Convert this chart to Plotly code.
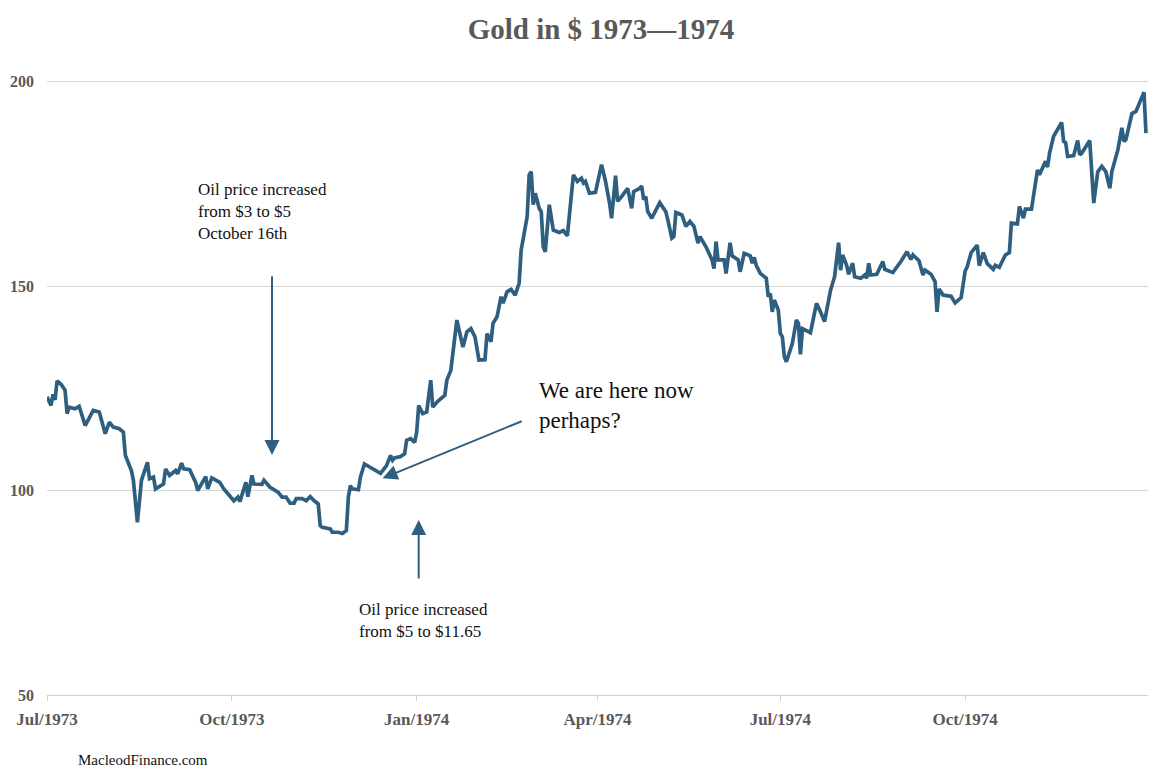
#!/usr/bin/env python3
# -*- coding: utf-8 -*-

# external imports
import pandas as pd
import plotly.graph_objects as go

# days counted from 1 Jul 1973
day_offsets = [
    0, 2, 3, 4, 5, 7, 9, 10, 11, 14, 16, 17, 19, 23, 26, 29, 31, 33, 36, 38,
    39, 42, 43, 45, 47, 50, 51, 53, 54, 58, 59, 61, 63, 64, 65, 67, 68, 71, 74, 75,
    79, 80, 82, 86, 88, 93, 95, 96, 99, 100, 102, 103, 107, 108, 111,
    113, 115, 117, 119, 121, 123, 124, 127, 129, 131, 133, 135, 136, 137, 141, 142,
    145, 147, 149, 150, 151, 152, 155, 156, 158, 161, 165, 166, 169, 171, 172, 173,
    176, 178, 179, 181, 183, 184, 185, 187, 189, 191, 192, 194, 198, 199, 201,
    204, 207, 209, 211, 213, 215, 218, 219, 221, 222, 224, 226, 227, 229, 231, 233,
    235, 236, 238, 239, 240, 241, 242, 243, 245, 246, 247, 248, 250, 252, 255, 257,
    259, 261, 262, 264, 266, 267, 268, 270, 273, 276, 278, 280, 281, 283, 284, 286,
    289, 291, 292, 295,
    296, 297, 298, 299, 301, 305, 308, 309, 311, 312, 313, 316, 318, 320, 322, 324,
    325, 328, 331, 332, 333, 334, 337, 338, 340, 341, 344, 345, 347, 350, 351, 352,
    353, 355, 358, 359, 360, 361, 362, 364, 365, 366, 367, 368, 371, 373, 374, 375,
    376, 380, 383, 385, 387, 390, 392, 394, 395, 396, 398, 399, 401, 402, 405, 407,
    408, 409, 410, 413, 416, 417, 421, 425, 428, 430, 431, 434, 436, 437, 440, 442,
    443, 444, 446, 450, 452, 455, 457, 458, 460, 463, 464, 466, 468,
    471, 472, 474, 477, 479, 480, 483, 484, 486, 487, 490, 493, 494, 497, 498, 499,
    501, 503, 505, 506, 507, 508, 511, 513, 514, 515, 519, 521, 523, 525, 527, 529,
    530, 533, 535, 536, 537, 540, 542, 546, 547,
]
gold_price = [
    122.9, 120.8, 123.5, 122.2, 126.8, 126.0, 124.5, 118.8, 120.4, 120.0,
    120.6, 119.2, 115.9, 119.6, 119.2, 113.9, 116.7, 115.5, 115.1, 114.3,
    108.6, 104.9, 102.5, 92.2, 102.5, 106.9, 102.9, 103.3, 100.4, 101.6,
    105.3, 103.7, 104.5, 104.9, 104.1, 106.7, 105.3, 105.1, 102.0, 100.0,
    103.4, 100.4, 103.1, 102.0, 100.4, 97.5, 98.4, 97.3, 102.0, 98.5,
    103.7, 101.6, 101.5, 102.5, 100.8,
    100.2, 99.6, 98.4, 98.4, 96.9, 96.9, 98.0, 98.0, 97.5, 98.5,
    97.5, 96.7, 91.4, 91.0, 90.6, 89.8, 89.8, 89.5, 90.2, 98.4,
    101.2, 100.4, 100.2, 103.3, 106.5, 105.7, 104.5, 104.2, 106.1, 108.6,
    107.4, 108.0, 108.3, 109.0, 112.3, 112.7, 111.8, 114.3, 120.8, 118.8,
    119.2, 127.0, 120.4, 121.6, 123.3, 127.0, 129.4,
    141.7, 135.1, 138.8, 139.6, 137.6, 131.9, 132.0, 138.4, 136.4, 140.9,
    142.5, 147.4, 145.8, 148.6, 149.2, 147.8, 150.7, 158.8, 164.1, 167.0,
    177.2, 178.0, 169.9, 172.7, 169.0, 168.2, 159.6, 158.4, 169.9, 163.7,
    163.1, 163.6, 162.3, 171.5, 177.2, 175.6, 176.4, 175.2, 175.6, 172.7,
    172.9, 179.7, 175.6, 170.3, 166.6, 177.0, 170.7, 171.9, 173.9, 169.0,
    173.1, 173.9,
    174.5, 171.1, 171.9, 168.2, 166.6, 170.4, 168.2, 166.2, 161.7, 162.1,
    168.0, 167.4, 164.6, 165.8, 164.6, 160.5, 162.1, 159.6, 156.4, 154.3,
    160.9, 156.4, 156.4, 153.1, 160.6, 157.4, 156.4, 153.5, 158.0, 157.4,
    155.6, 157.0, 155.1, 153.1, 151.9, 147.4, 148.2, 143.7, 146.6, 144.1,
    138.4, 137.6, 132.7, 131.5, 136.0, 141.7, 140.9, 133.3, 139.6, 138.6,
    145.8, 143.7, 141.3, 149.0, 152.3, 160.6, 153.9, 157.6, 155.1, 152.9,
    155.6, 152.3, 151.9, 152.7, 151.9, 155.6, 152.7, 152.9, 156.0, 154.1,
    153.3, 156.0, 158.4, 156.5, 157.6, 156.2, 152.7, 153.9, 152.9, 151.1,
    143.7, 149.3, 147.8, 147.5, 145.9, 147.2, 153.7, 154.7, 158.2, 160.0,
    155.0, 158.2, 155.5,
    154.1, 155.1, 154.6, 157.6, 158.2, 165.4, 165.2, 169.5, 166.6, 168.8,
    168.8, 178.4, 177.2, 180.5, 179.1, 182.5, 186.6, 188.4, 190.0, 185.4,
    185.1, 181.7, 181.9, 185.6, 182.1, 182.5, 185.6, 170.3, 178.0, 179.3,
    178.0, 173.9, 178.0, 183.3, 188.7, 185.4, 185.8, 192.2, 192.7, 197.4,
    187.4,
]
y_ticks = [50, 100, 150, 200]

title_text = "Gold in $ 1973\u20141974"
note_oct = "Oil price increased<br>from $3 to $5<br>October 16th"
note_jan = "Oil price increased<br>from $5 to $11.65"
note_now = "We are here now<br>perhaps?"
source_text = "MacleodFinance.com"

LINE = "#2e5f80"
GREY = "#595959"
SERIF = "Liberation Serif, Times New Roman, serif"


def gold_chart():
    dates = pd.Timestamp("1973-07-01") + pd.to_timedelta(day_offsets, unit="D")

    figure = go.Figure()
    figure.add_trace(go.Scatter(
        x=dates, y=gold_price,
        mode="lines",
        line={"color": LINE, "width": 3.7},
        hoverinfo="x+y",
    ))

    # arrows (no text at the tail)
    arrows = [
        ("1973-10-21", 108.7, "1973-10-21", 152.8),
        ("1974-01-02", 92.8, "1974-01-02", 78.1),
        ("1973-12-15", 103.0, "1974-02-23", 117.1),
    ]
    for x, y, ax, ay in arrows:
        figure.add_annotation(
            x=x, y=y, ax=ax, ay=ay,
            xref="x", yref="y", axref="x", ayref="y",
            text="", showarrow=True,
            arrowhead=2, arrowsize=1.5, arrowwidth=2, arrowcolor=LINE,
        )

    notes = [
        (note_oct, 0.1353, 0.840, 17),
        (note_jan, 0.2816, 0.158, 17),
        (note_now, 0.445, 0.519, 23),
    ]
    for text, x, y, size in notes:
        figure.add_annotation(
            x=x, y=y, xref="paper", yref="paper",
            xanchor="left", yanchor="top", align="left",
            text=text, showarrow=False,
            font={"family": SERIF, "size": size, "color": "#111111"},
        )

    figure.add_annotation(
        x=0.026, y=-0.106, xref="paper", yref="paper",
        xanchor="left", yanchor="middle",
        text=source_text, showarrow=False,
        font={"family": SERIF, "size": 15, "color": "#111111"},
    )

    figure.update_xaxes(
        range=["1973-07-01", "1974-12-31"],
        tick0="1973-07-01", dtick="M3", tickformat="%b/%Y",
        ticks="outside", ticklen=5, tickcolor="#d0d0d0",
        showgrid=False, showline=True, linecolor="#d0d0d0", linewidth=1,
        zeroline=False, ticklabelstandoff=4,
        tickfont={"family": SERIF, "size": 17, "color": GREY, "weight": "bold"},
    )
    figure.update_yaxes(
        range=[50, 200.4], tickvals=y_ticks,
        showgrid=True, gridcolor="#d6d6d6", gridwidth=1,
        zeroline=False, showline=False, ticks="", ticklabelstandoff=12,
        tickfont={"family": SERIF, "size": 16, "color": GREY, "weight": "bold"},
    )
    figure.update_layout(
        width=1158, height=778,
        margin={"l": 47, "r": 10, "t": 80, "b": 83},
        paper_bgcolor="white", plot_bgcolor="white",
        showlegend=False,
        title={
            "text": title_text, "x": 0.519, "xanchor": "center",
            "y": 0.963, "yanchor": "middle",
            "font": {"family": SERIF, "size": 29, "color": GREY, "weight": "bold"},
        },
    )
    # the page body has an 8px default margin; drop it so the figure sits at 0,0
    figure.write_html(
        "out.html",
        config={"displayModeBar": False},
        post_script="document.body.style.margin='0';",
    )


gold_chart()
